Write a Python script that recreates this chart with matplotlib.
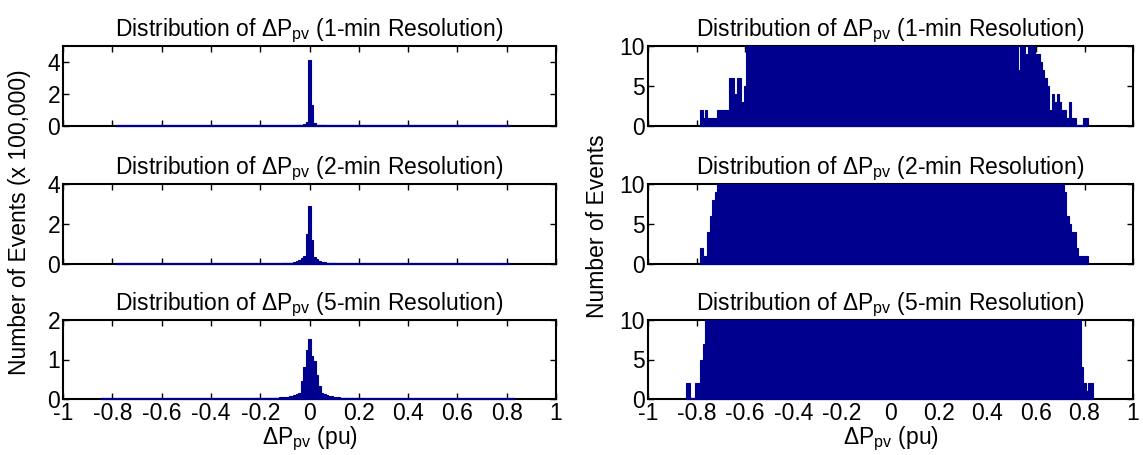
import numpy as np
import matplotlib
matplotlib.use("Agg")
import matplotlib.pyplot as plt

plt.rcParams['font.family'] = ['Liberation Sans', 'DejaVu Sans']
plt.rcParams['mathtext.fontset'] = 'custom'
plt.rcParams['mathtext.rm'] = 'Liberation Sans'
plt.rcParams['mathtext.it'] = 'Liberation Sans:italic'

BIN_WIDTH = 0.01

# ---- 1-min resolution: bin centres start at -0.78, step 0.01 (counts) ----
start_1min = -0.78
counts_1min = [
    2, 1, 2, 1, 1, 1, 1, 2, 2, 2, 2, 2, 6, 6, 4, 6, 6, 3, 5,
    16, 22, 28, 34, 40, 46, 52, 58, 64,
    70, 76, 82, 88, 95, 102, 110, 118, 126, 135,
    145, 155, 166, 178, 190, 204, 218, 232, 250, 265,
    285, 305, 330, 350, 380, 410, 440, 470, 510, 550,
    600, 650, 700, 770, 840, 920, 1000, 1120, 1250, 1400,
    1550, 1800, 2100, 2500, 3000, 3800, 5000, 7000, 12000, 24000,
    410000,
    133000, 17000, 9000, 6000, 4200, 3300, 2700, 2300, 1950, 1700,
    1500, 1350, 1200, 1080, 980, 890, 810, 740, 680, 620,
    570, 520, 480, 445, 410, 380, 350, 325, 300, 280,
    260, 242, 225, 210, 196, 182, 170, 158, 147, 137,
    127, 118, 110, 102, 94, 87, 76, 64, 52, 40,
    30, 22, 7, 18, 14, 9, 12, 11, 10,
    9, 9, 8, 7, 6, 5, 2, 4, 3, 4, 3, 2, 2, 1, 3, 1, 1, 0, 0, 0, 1, 1,
]

# ---- 2-min resolution ----
start_2min = -0.78
counts_2min = [
    2, 1, 1, 4, 6, 8, 9,
    12, 15, 18, 21, 24, 27, 30, 34, 38, 42, 46,
    50, 55, 60, 65, 70, 76, 82, 88, 95, 102,
    110, 118, 127, 136, 146, 157, 168, 180, 193, 207,
    222, 238, 255, 273, 292, 313, 335, 360, 385, 413,
    443, 475, 510, 548, 590, 635, 685, 740, 800, 870,
    950, 1040, 1140, 1260, 1400, 1560, 1760, 2000, 2300, 2700,
    3800, 4800, 6000, 7500, 10000, 14000, 20000, 28000, 40000, 148000,
    290000,
    118000, 35000, 25000, 17000, 12000, 8500, 6200, 4700, 3700, 3000,
    2500, 2100, 1800, 1550, 1350, 1180, 1040, 920, 820, 740,
    670, 610, 560, 515, 475, 440, 410, 380, 355, 330,
    308, 288, 268, 250, 233, 218, 203, 190, 177, 165,
    154, 144, 134, 125, 117, 109, 101, 94, 87, 81,
    75, 69, 64, 59, 54, 50, 46, 42, 38, 35,
    32, 29, 26, 24, 22, 20, 18, 16, 14, 12, 11,
    9, 6, 5, 4, 4, 2, 1, 1, 1, 1,
]

# ---- 5-min resolution ----
start_5min = -0.84
counts_5min = [
    2, 2, 0, 0, 2, 2, 5, 7,
    12, 14, 17, 20, 24, 28,
    32, 36, 40, 44, 48, 53, 58, 63, 68, 73,
    78, 84, 90, 97, 104, 112, 120, 129, 139, 149,
    160, 172, 185, 198, 212, 228, 245, 265, 285, 305,
    330, 355, 385, 415, 450, 485, 525, 570, 615, 655,
    700, 760, 830, 900, 980, 1060, 1150, 1250, 1360, 1480,
    1600, 1800, 2000, 2250, 2500, 2800, 3100, 3500, 3900, 4400,
    5000, 6000, 7200, 8600, 10500, 12500, 15000, 45000, 82000, 123000,
    152000,
    110000, 95000, 62000, 32000, 15000, 12000, 9500, 7800, 6400, 5300,
    4500, 3900, 3400, 3000, 2650, 2350, 2100, 1880, 1690, 1520,
    1370, 1240, 1120, 1020, 930, 850, 780, 715, 655, 600,
    550, 505, 465, 428, 394, 363, 335, 309, 285, 263,
    243, 224, 207, 191, 176, 162, 150, 139, 128, 118,
    109, 101, 93, 86, 79, 73, 67, 62, 57, 52,
    48, 44, 40, 37, 34, 31, 28, 26, 24, 22,
    20, 18, 17, 16, 14, 13, 12, 11,
    4, 2, 1, 2, 2,
]

titles = [
    'Distribution of ΔP$_{\\rm pv}$ (1-min Resolution)',
    'Distribution of ΔP$_{\\rm pv}$ (2-min Resolution)',
    'Distribution of ΔP$_{\\rm pv}$ (5-min Resolution)',
]
left_ylims = [5, 4, 2]
left_yticks = [[0, 2, 4], [0, 2, 4], [0, 1, 2]]
right_ylim = 10
right_yticks = [0, 5, 10]
xticks = [-1, -0.8, -0.6, -0.4, -0.2, 0, 0.2, 0.4, 0.6, 0.8, 1]
xticklabels = ['-1', '-0.8', '-0.6', '-0.4', '-0.2', '0', '0.2', '0.4', '0.6', '0.8', '1']
scale_left = 100000.0

series = [(start_1min, counts_1min), (start_2min, counts_2min), (start_5min, counts_5min)]

W, H = 1143, 455
fig = plt.figure(figsize=(W / 100, H / 100), dpi=100)
BAR = '#00008f'
FS = 16.5

cols = [(63, 556), (648, 1133)]
rows = [(46, 126), (184, 264), (320, 399)]

def px_axes(x0, x1, y0, y1):
    return fig.add_axes([x0 / W, 1 - y1 / H, (x1 - x0) / W, (y1 - y0) / H])

for c, (cx0, cx1) in enumerate(cols):
    for r, (ry0, ry1) in enumerate(rows):
        ax = px_axes(cx0, cx1, ry0, ry1)
        start, counts = series[r]
        counts = np.asarray(counts, dtype=float)
        centers = start + BIN_WIDTH * np.arange(len(counts))
        vals = counts / scale_left if c == 0 else counts
        ax.bar(centers, vals, width=BIN_WIDTH, color=BAR, edgecolor=BAR,
               linewidth=0.8, align='center', zorder=4)
        # MATLAB draws the zero-height bins as a blue line along the baseline
        ax.plot([centers[0] - BIN_WIDTH / 2, centers[-1] + BIN_WIDTH / 2], [0, 0],
                color=BAR, lw=1.6, zorder=5, clip_on=False, solid_capstyle='butt')
        ax.set_xlim(-1, 1)
        ax.set_xticks(xticks)
        if c == 0:
            ax.set_ylim(0, left_ylims[r])
            ax.set_yticks(left_yticks[r])
        else:
            ax.set_ylim(0, right_ylim)
            ax.set_yticks(right_yticks)
        if r == 2:
            ax.set_xticklabels(xticklabels)
            ax.set_xlabel('ΔP$_{\\rm pv}$ (pu)', fontsize=FS, labelpad=0)
        else:
            ax.set_xticklabels([])
        ax.tick_params(direction='in', top=True, right=True, length=4, width=1,
                       labelsize=FS, pad=2)
        for s in ax.spines.values():
            s.set_linewidth(1.5)
            s.set_zorder(3)
        ax.set_title(titles[r], fontsize=FS, pad=7)

fig.text(20 / W, 1 - 222 / H, 'Number of Events (x 100,000)', rotation=90,
         fontsize=FS, ha='center', va='center')
fig.text(598 / W, 1 - 226 / H, 'Number of Events', rotation=90,
         fontsize=FS, ha='center', va='center')

fig.savefig('out.png', dpi=100)
